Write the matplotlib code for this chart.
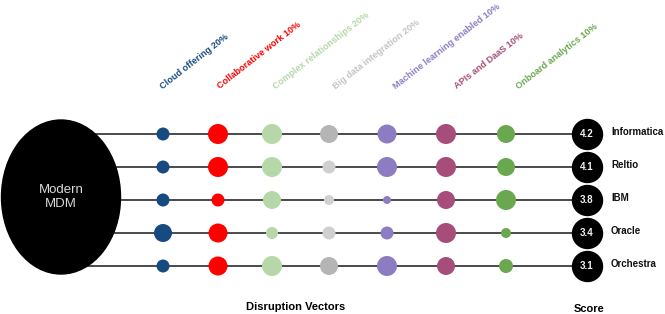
import matplotlib
matplotlib.use("Agg")
import matplotlib.pyplot as plt
from matplotlib.patches import Ellipse

plt.rcParams["font.family"] = ["Liberation Sans", "DejaVu Sans"]

# =============================================================================
# 데이터
# =============================================================================
vendors = ["Informatica", "Reltio", "IBM", "Oracle", "Orchestra"]
scores = [4.2, 4.1, 3.8, 3.4, 3.1]
vectors = ["Cloud offering 20%", "Collaborative work 10%", "Complex relationships 20%",
           "Big data integration 20%", "Machine learning enabled 10%",
           "APIs and DaaS 10%", "Onboard analytics 10%"]
vector_colors = ["#174a80", "#ff0000", "#b6d7a8", "#c4c4c4", "#8e7cc3", "#a64d79", "#6aa84f"]

# 벡터별 평가 (0-10, 원 크기), 행 = vendors 순서
cloud = [6.5, 6.5, 6.5, 9, 6.5]
collab = [10, 10, 6.5, 9.5, 9.5]
complex_rel = [10, 10, 9, 6, 10]
big_data = [9, 6.5, 5, 6.5, 9]
ml = [9.5, 10, 4, 6.5, 10]
apis = [10, 10, 9, 10, 9]
onboard = [9, 9, 10, 5, 7]
ratings = [cloud, collab, complex_rel, big_data, ml, apis, onboard]

# =============================================================================
# 배치 (픽셀 좌표)
# =============================================================================
W, H = 665, 314
row_y = [134, 167, 200, 233, 266]
col_x = [163, 218, 272, 329, 387, 446, 506]
score_x = 587


def px_to_s(d):
    # 지름(px) -> scatter 면적(pt^2)
    return (d * 0.72) ** 2


fig = plt.figure(figsize=(W / 100, H / 100), dpi=100)
ax = fig.add_axes([0, 0, 1, 1])
ax.set_xlim(0, W)
ax.set_ylim(H, 0)
ax.axis("off")

# 연결선
for y in row_y:
    ax.plot([61, score_x], [y, y], color="#1a1a1a", lw=1.1, zorder=1)

# 중심 타원
ax.add_patch(Ellipse((61, 197), 119, 154, color="black", zorder=3))
ax.text(61, 197, "Modern\nMDM", color="#d9d9d9", fontsize=9.5, ha="center", va="center",
        linespacing=1.3, zorder=4)

# 벡터 원
for j, (vals, c) in enumerate(zip(ratings, vector_colors)):
    for i, v in enumerate(vals):
        color = c
        if j == 3:
            color = "#b5b5b5" if v >= 8 else "#d0d0d0"
        ax.scatter(col_x[j], row_y[i], s=px_to_s(2 * v), color=color,
                   edgecolors="none", zorder=3)
    ax.text(col_x[j] + 1 + 2.2 * j, 91, vectors[j], color=c, fontsize=6.6, fontweight="bold",
            rotation=38, rotation_mode="anchor", ha="left", va="bottom")

# 점수 원 + 업체명
for i, (name, sc) in enumerate(zip(vendors, scores)):
    ax.scatter(score_x, row_y[i], s=px_to_s(30), color="black", zorder=3)
    ax.text(score_x, row_y[i], f"{sc:.1f}", color="#f2f2f2", fontsize=7,
            fontweight="bold", ha="center", va="center", zorder=4)
    ax.text(611, row_y[i] - 2, name, fontsize=7, fontweight="bold", ha="left",
            va="center", color="#111111")

ax.text(296, 307, "Disruption Vectors", fontsize=8, fontweight="bold", ha="center", va="center")
ax.text(589, 309, "Score", fontsize=8, fontweight="bold", ha="center", va="center")

fig.savefig("out.png", dpi=100)
plt.close()
